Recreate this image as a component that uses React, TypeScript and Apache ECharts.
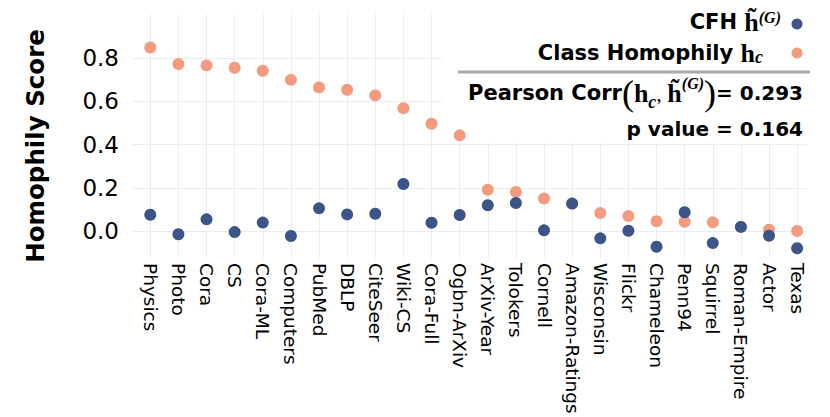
import React, { useEffect, useRef } from "react";
import * as echarts from "echarts";

const categories = [
  "Physics", "Photo", "Cora", "CS", "Cora-ML", "Computers", "PubMed", "DBLP",
  "CiteSeer", "Wiki-CS", "Cora-Full", "Ogbn-ArXiv", "ArXiv-Year", "Tolokers",
  "Cornell", "Amazon-Ratings", "Wisconsin", "Flickr", "Chameleon", "Penn94",
  "Squirrel", "Roman-Empire", "Actor", "Texas",
];
const classHomophily = [
  0.85, 0.773, 0.767, 0.756, 0.742, 0.7, 0.665, 0.654, 0.628, 0.569, 0.497,
  0.443, 0.191, 0.181, 0.15, 0.127, 0.083, 0.069, 0.045, 0.043, 0.04, 0.019,
  0.006, 0.0,
];
const cfh = [
  0.075, -0.015, 0.054, -0.005, 0.039, -0.023, 0.105, 0.077, 0.08, 0.218,
  0.038, 0.074, 0.119, 0.13, 0.003, 0.127, -0.034, 0.001, -0.073, 0.087,
  -0.056, 0.019, -0.022, -0.08,
];
const yTicks = [0, 0.2, 0.4, 0.6, 0.8];
const xTicks = categories.map((_, i) => i);

const BLUE = "#3C5488";
const PINK = "#F39B7F";
const GRID = "#e9ecf4";

export default function App() {
  const ref = useRef<HTMLDivElement>(null);
  useEffect(() => {
    if (!ref.current) return;
    const chart = echarts.init(ref.current, undefined, { renderer: "svg" });
    const sans = "DejaVu Sans";
    const serif = "Liberation Serif";
    const rich = {
      t: { fontFamily: sans, fontWeight: "bold", fontSize: 20, color: "#000" },
      tw: { fontFamily: sans, fontWeight: "bold", fontSize: 21, color: "#000" },
      h: { fontFamily: serif, fontWeight: "bold", fontSize: 26, color: "#000" },
      cm: { fontFamily: serif, fontSize: 22, color: "#000" },
      sub: { fontFamily: serif, fontStyle: "italic", fontWeight: "bold", fontSize: 18, color: "#000", verticalAlign: "bottom" },
      sup: { fontFamily: serif, fontStyle: "italic", fontWeight: "bold", fontSize: 16, color: "#000", verticalAlign: "top" },
      p: { fontFamily: serif, fontSize: 36, color: "#000" },
    };
    chart.setOption({
      animation: false,
      textStyle: { fontFamily: sans },
      grid: { left: 132, right: 23, top: 14, bottom: 159 },
      xAxis: {
        type: "value",
        min: -0.65,
        max: 23.35,
        axisLine: { show: false },
        axisTick: { show: false, customValues: xTicks },
        axisLabel: {
          customValues: xTicks,
          formatter: (v: number) => categories[Math.round(v)] ?? "",
          rotate: -90,
          margin: 5,
          fontSize: 18.5,
          color: "#000",
          fontFamily: sans,
        },
        splitLine: { show: true, lineStyle: { color: GRID, width: 1 } },
      },
      yAxis: {
        type: "value",
        min: -0.125,
        max: 1.005,
        axisLine: { show: false },
        axisTick: { show: false, customValues: yTicks },
        axisLabel: {
          customValues: yTicks,
          formatter: (v: number) => v.toFixed(1),
          margin: 13,
          fontSize: 23,
          color: "#000",
          fontFamily: sans,
        },
        splitLine: { show: true, lineStyle: { color: GRID, width: 1 } },
      },
      series: [
        {
          name: "Class Homophily",
          type: "scatter",
          symbolSize: 12,
          itemStyle: { color: PINK, opacity: 1 },
          data: classHomophily.map((v, i) => [i, v]),
          z: 3,
        },
        {
          name: "CFH",
          type: "scatter",
          symbolSize: 12,
          itemStyle: { color: BLUE, opacity: 1 },
          data: cfh.map((v, i) => [i, v]),
          z: 4,
        },
      ],
      graphic: [
        {
          type: "rect",
          z: 1,
          shape: { x: 442, y: 0, width: 388, height: 143 },
          style: { fill: "#ffffff" },
          silent: true,
        },
        {
          type: "text",
          z: 10,
          x: 35,
          y: 146,
          rotation: Math.PI / 2,
          style: {
            text: "Homophily Score",
            align: "center",
            verticalAlign: "middle",
            fontFamily: sans,
            fontWeight: "bold",
            fontSize: 24.5,
            fill: "#000",
          },
        },
        {
          type: "circle",
          z: 10,
          shape: { cx: 797, cy: 24, r: 5.5 },
          style: { fill: BLUE },
        },
        {
          type: "circle",
          z: 10,
          shape: { cx: 797, cy: 53, r: 5.5 },
          style: { fill: PINK },
        },
        {
          type: "line",
          z: 10,
          shape: { x1: 458, y1: 72, x2: 810, y2: 72 },
          style: { stroke: "#a9a9a9", lineWidth: 3 },
        },
        {
          type: "text",
          z: 10,
          x: 781,
          y: 22,
          style: {
            text: "{tw|CFH }{h|h\u0303}{sup|(G)}",
            rich,
            align: "right",
            verticalAlign: "middle",
          },
        },
        {
          type: "text",
          z: 10,
          x: 763,
          y: 53,
          style: {
            text: "{tw|Class Homophily }{h|h}{sub|c}",
            rich,
            align: "right",
            verticalAlign: "middle",
          },
        },
        {
          type: "text",
          z: 10,
          x: 803,
          y: 93,
          style: {
            text: "{tw|Pearson Corr}{p|(}{h|h}{sub|c}{cm|, }{h|h\u0303}{sup|(G)}{p|)}{t|= 0.293}",
            rich,
            align: "right",
            verticalAlign: "middle",
          },
        },
        {
          type: "text",
          z: 10,
          x: 803,
          y: 129,
          style: {
            text: "{t|p value = 0.164}",
            rich,
            align: "right",
            verticalAlign: "middle",
          },
        },
      ],
    });
    return () => chart.dispose();
  }, []);
  return (
    <div
      ref={ref}
      style={{ position: "absolute", left: 0, top: 0, width: 830, height: 417, background: "#fff" }}
    />
  );
}
